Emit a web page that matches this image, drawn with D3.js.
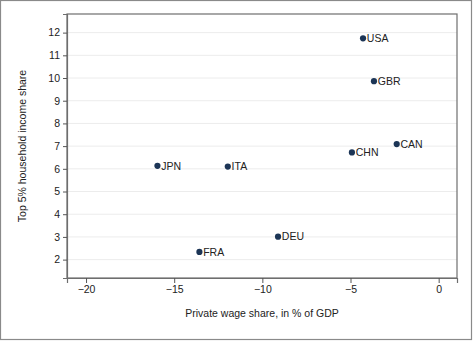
<!DOCTYPE html>
<html><head><meta charset="utf-8">
<script src="https://cdn.jsdelivr.net/npm/d3@7"></script>
<style>body{margin:0;background:#fff}svg{display:block}text{font-family:"Liberation Sans",Arial,sans-serif}</style>
</head><body>
<svg id="c" width="473" height="341"></svg>
<script>
const countries = ["USA","GBR","CAN","CHN","JPN","ITA","FRA","DEU"];
const wageShare = [-4.29,-3.67,-2.38,-4.92,-15.95,-11.96,-13.57,-9.11];
const top5Share = [11.75,9.86,7.09,6.72,6.13,6.10,2.34,3.01];
const xTicks = [-20,-15,-10,-5,0];
const yTicks = [2,3,4,5,6,7,8,9,10,11,12];

const svg = d3.select("#c");
const W = 473, H = 341;
const m = {l:67, t:14, r:457, b:278};

svg.append("rect").attr("x",0.5).attr("y",0.5).attr("width",W-2).attr("height",H-2)
  .attr("fill","#fff").attr("stroke","#8a8a8a").attr("stroke-width",1.2);

const x = d3.scaleLinear().domain([-21.08,1.04]).range([m.l,m.r]);
const y = d3.scaleLinear().domain([1.19,12.82]).range([m.b,m.t]);

// gridlines
svg.append("g").selectAll("line").data(yTicks).join("line")
  .attr("x1",m.l).attr("x2",m.r).attr("y1",d=>y(d)).attr("y2",d=>y(d))
  .attr("stroke","#ececec").attr("stroke-width",1);

// frame
svg.append("rect").attr("x",m.l).attr("y",m.t).attr("width",m.r-m.l).attr("height",m.b-m.t)
  .attr("fill","none").attr("stroke","#6e6e6e").attr("stroke-width",1.2);

const xa = svg.append("g").attr("transform",`translate(0,${m.b})`)
  .call(d3.axisBottom(x).tickValues(xTicks).tickSize(5).tickPadding(3).tickFormat(d=>d3.format("")(d).replace("-","\u2212")));
const ya = svg.append("g").attr("transform",`translate(${m.l},0)`)
  .call(d3.axisLeft(y).tickValues(yTicks).tickSize(4).tickPadding(3));
[xa,ya].forEach(a=>{
  a.select(".domain").attr("stroke","#6e6e6e").attr("stroke-width",1.2);
  a.selectAll(".tick line").attr("stroke","#555");
  a.selectAll("text").attr("font-size",10.5).attr("fill","#222");
});

svg.append("text").attr("x",(m.l+m.r)/2).attr("y",317).attr("text-anchor","middle")
  .attr("font-size",10.5).attr("fill","#222").text("Private wage share, in % of GDP");
svg.append("text").attr("transform",`translate(26,${(m.t+m.b)/2}) rotate(-90)`).attr("text-anchor","middle")
  .attr("font-size",10.5).attr("fill","#222").text("Top 5% household income share");

const data = countries.map((c,i)=>({c, x:wageShare[i], y:top5Share[i]}));
const g = svg.append("g").selectAll("g").data(data).join("g")
  .attr("transform",d=>`translate(${x(d.x)},${y(d.y)})`);
g.append("circle").attr("r",3.1).attr("fill","#1c3556");
g.append("text").attr("x",3.8).attr("y",3.8).attr("font-size",10.5).attr("fill","#222").text(d=>d.c);
</script>
</body></html>
